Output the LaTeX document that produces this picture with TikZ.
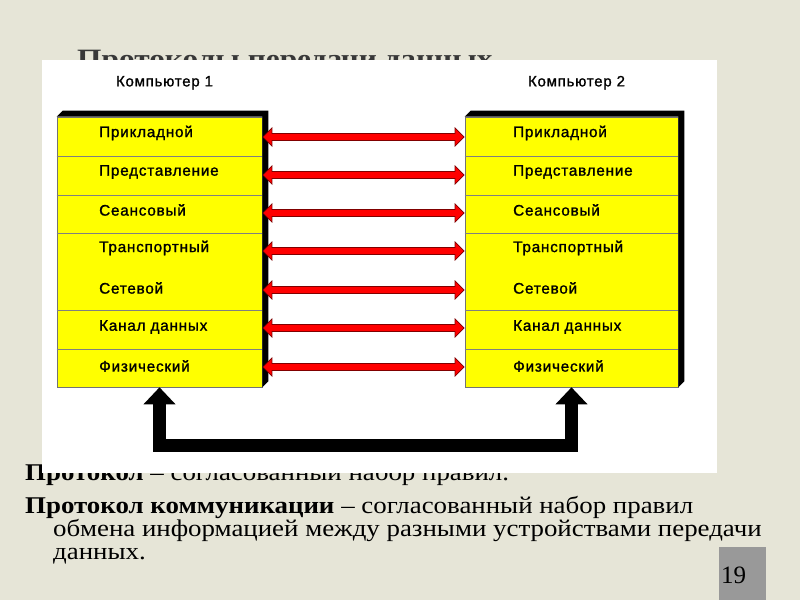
\documentclass[tikz,border=0pt]{standalone}
\usepackage{fontspec}
\setmainfont{Liberation Serif}
\newfontfamily\layerfont[LetterSpace=5, FakeBold=1.2]{Liberation Sans}
\newfontfamily\bodyfont[FakeStretch=1.12]{Liberation Serif}
\usetikzlibrary{arrows.meta, positioning, calc}
\definecolor{slidebg}{RGB}{230,229,215}
\definecolor{layeryellow}{RGB}{255,255,0}

\begin{document}
\begin{tikzpicture}[
    x=1pt, y=-1pt,
    font=\layerfont\fontsize{15.3}{18}\selectfont,
    stackbox/.style={rectangle, draw=black!55, fill=layeryellow, minimum height=270pt, inner sep=0pt, line width=0.6pt},
    layerlabel/.style={anchor=west, inner sep=0pt},
    complabel/.style={inner sep=0pt, font=\layerfont\fontsize{15}{17}\selectfont},
    sepline/.style={draw=black!50, line width=0.7pt},
    redout/.style={{Triangle[length=10pt,width=19pt]}-{Triangle[length=10pt,width=19pt]}, draw=red!50!black, line width=8pt},
    redin/.style={{Triangle[length=8pt,width=15.5pt]}-{Triangle[length=8pt,width=15.5pt]}, draw=red, line width=5.5pt, shorten <=1.3pt, shorten >=1.3pt},
    backarr/.style={{Triangle[length=17pt,width=31pt]}-{Triangle[length=17pt,width=31pt]}, draw=black, line width=13pt, line join=miter},
    bodytext/.style={anchor=base west, inner sep=0pt, font=\bodyfont\fontsize{24}{28}\selectfont}
]
\useasboundingbox (0,0) rectangle (800,600);
\fill[slidebg] (0,0) rectangle (800,600);

% slide title and first line, half covered by the picture
\node[anchor=base west, inner sep=0pt, text=black!78, font=\bodyfont\bfseries\fontsize{28}{32}\selectfont] (title) at (77,68) {Протоколы передачи данных};
\node[bodytext] (p1) at (25,480) {\textbf{Протокол} – согласованный набор правил.};
\fill[white] (42,60) rectangle (717,473);

% the two stacks
\node[stackbox, minimum width=205pt] (L) at (159.5,252) {};
\node[stackbox, minimum width=213pt] (R) at (571.5,252) {};
\foreach \s in {L,R} {
  \fill[black] (\s.north west) -- ++(6,-6) -- ($(\s.north east)+(6,-6)$) -- ($(\s.south east)+(6,-6)$) -- (\s.south east) -- (\s.north east) -- cycle;
  \foreach \y in {156,195,233,310,349}
    \draw[sepline] (\s.west |- 0,\y) -- (\s.east |- 0,\y);
}

\node[complabel, above=27pt of L, xshift=5pt] (c1) {Компьютер 1};
\node[complabel, above=27pt of R, xshift=5pt] (c2) {Компьютер 2};

% layer names and the peer arrows
\foreach \n/\ly/\ay/\txt in {1/133/137/Прикладной, 2/172/175/Представление, 3/210/213/Сеансовый,
    4/248/251/Транспортный, 5/288/290/Сетевой, 6/327/328/Канал данных, 7/366/367/Физический} {
  \coordinate (row\n) at (0,\ay);
  \node[layerlabel] (l\n) at (99,\ly) {\txt};
  \node[layerlabel] (r\n) at (513,\ly) {\txt};
  \draw[redout] (L.east |- row\n) -- (R.west |- row\n);
  \draw[redin] (L.east |- row\n) -- (R.west |- row\n);
}

% physical link
\coordinate (bar) at (0,445.5);
\draw[backarr] (L.south) -- (L.south |- bar) -- (R.south |- bar) -- (R.south);

% slide text
\node[bodytext] (p2) at (25,513) {\textbf{Протокол коммуникации} – согласованный набор правил};
\node[bodytext] (p3) at (53,536) {обмена информацией между разными устройствами передачи};
\node[bodytext] (p4) at (53,559) {данных.};

% slide number
\fill[black!40] (719,547) rectangle (766,600);
\node[anchor=base west, inner sep=0pt, font=\rmfamily\fontsize{25}{28}\selectfont] (num) at (721,583) {19};
\end{tikzpicture}
\end{document}
